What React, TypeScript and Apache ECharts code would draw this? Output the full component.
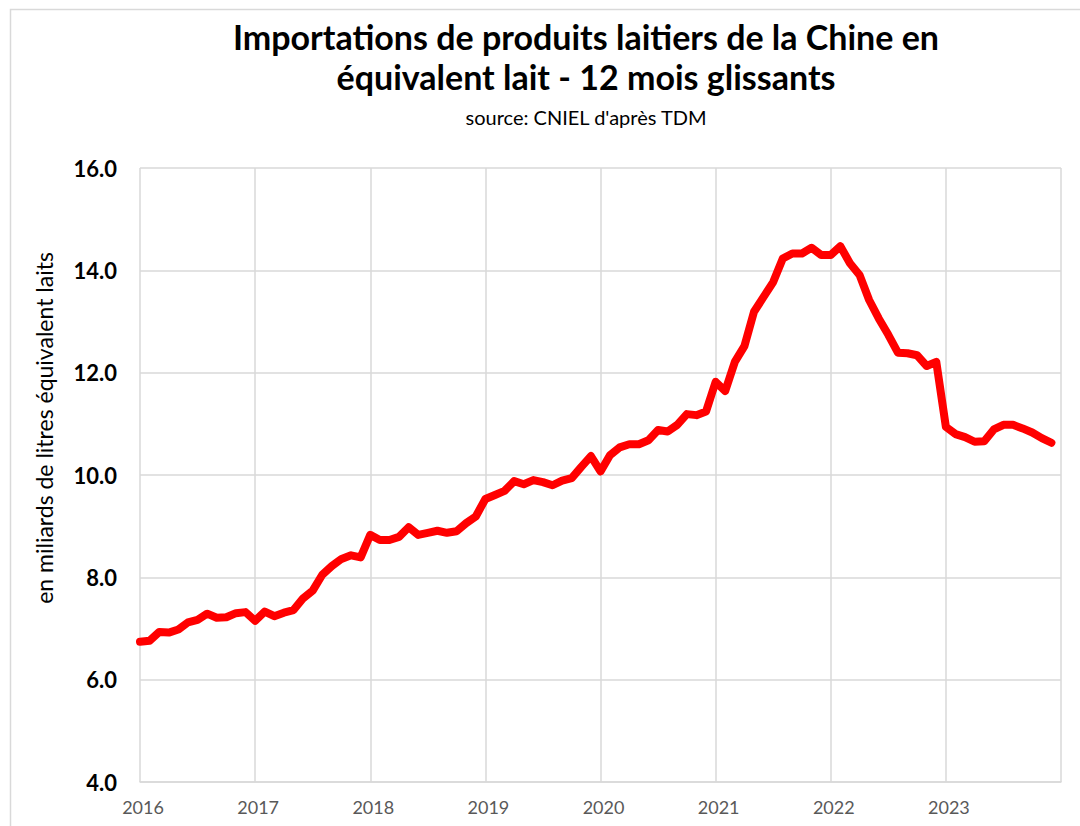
import React, { useEffect, useRef } from "react";
import * as echarts from "echarts";

const titleLine1 = "Importations de produits laitiers de la Chine en";
const titleLine2 = "équivalent lait - 12 mois glissants";
const subtitle = "source: CNIEL d'après TDM";
const yAxisName = "en miliards de litres équivalent laits";

const yearLabels = ["2016", "2017", "2018", "2019", "2020", "2021", "2022", "2023"];

// monthly values, Jan 2016 .. Dec 2023 (milliards de litres, 12 mois glissants)
const values2016 = [6.74, 6.76, 6.93, 6.92, 6.98, 7.12, 7.17, 7.29, 7.21, 7.22, 7.30, 7.32];
const values2017 = [7.15, 7.33, 7.24, 7.31, 7.36, 7.59, 7.74, 8.05, 8.22, 8.36, 8.43, 8.39];
const values2018 = [8.83, 8.73, 8.73, 8.79, 8.98, 8.83, 8.87, 8.91, 8.87, 8.90, 9.06, 9.19];
const values2019 = [9.53, 9.61, 9.69, 9.88, 9.82, 9.90, 9.86, 9.80, 9.89, 9.94, 10.16, 10.37];
const values2020 = [10.07, 10.39, 10.54, 10.60, 10.60, 10.68, 10.88, 10.85, 10.98, 11.19, 11.17, 11.24];
const values2021 = [11.82, 11.64, 12.21, 12.52, 13.19, 13.48, 13.77, 14.23, 14.33, 14.33, 14.44, 14.30];
const values2022 = [14.30, 14.47, 14.14, 13.91, 13.42, 13.06, 12.74, 12.39, 12.38, 12.34, 12.13, 12.21];
const values2023 = [10.94, 10.80, 10.74, 10.65, 10.66, 10.89, 10.98, 10.98, 10.91, 10.83, 10.72, 10.63];

const allValues = [
  ...values2016, ...values2017, ...values2018, ...values2019,
  ...values2020, ...values2021, ...values2022, ...values2023,
];

const FONT = "Lato, 'Open Sans', sans-serif";

export default function App() {
  const ref = useRef<HTMLDivElement>(null);

  useEffect(() => {
    document.body.style.margin = "0";
    if (!ref.current) return;
    const chart = echarts.init(ref.current, null, { renderer: "svg" });
    const data = allValues.map((v, i) => [i, v]);

    chart.setOption({
      animation: false,
      backgroundColor: "#ffffff",
      textStyle: { fontFamily: FONT },
      grid: { left: 140, top: 168, right: 19, bottom: 44, containLabel: false },
      xAxis: {
        type: "value",
        min: 0,
        max: 96,
        interval: 12,
        axisLine: { show: true, lineStyle: { color: "#d9d9d9", width: 1.5 } },
        axisTick: { show: false },
        splitLine: { show: true, lineStyle: { color: "#d9d9d9", width: 1.5 } },
        axisLabel: {
          color: "#595959",
          fontSize: 18,
          fontFamily: FONT,
          margin: 16,
          padding: [0, 0, 0, 6],
          formatter: (v: number) => {
            const idx = Math.round(v / 12);
            return idx < yearLabels.length ? yearLabels[idx] : "";
          },
        },
      },
      yAxis: {
        type: "value",
        min: 4,
        max: 16,
        interval: 2,
        axisLine: { show: false },
        axisTick: { show: false },
        splitLine: { show: true, lineStyle: { color: "#d9d9d9", width: 1.5 } },
        axisLabel: {
          color: "#000000",
          fontSize: 22,
          fontWeight: "bold",
          fontFamily: FONT,
          margin: 23,
          formatter: (v: number) => v.toFixed(1),
        },
      },
      graphic: [
        {
          type: "rect",
          shape: { x: 10.5, y: 9.5, width: 1200, height: 1000 },
          style: { fill: "none", stroke: "#d9d9d9", lineWidth: 1.5 },
          silent: true,
        },
        {
          type: "text",
          x: 586,
          y: 36,
          style: {
            text: titleLine1,
            fontFamily: FONT,
            fontSize: 34,
            fontWeight: "bold",
            fill: "#000000",
            textAlign: "center",
            textVerticalAlign: "middle",
          },
        },
        {
          type: "text",
          x: 586,
          y: 76,
          style: {
            text: titleLine2,
            fontFamily: FONT,
            fontSize: 34,
            fontWeight: "bold",
            fill: "#000000",
            textAlign: "center",
            textVerticalAlign: "middle",
          },
        },
        {
          type: "text",
          x: 586,
          y: 117,
          style: {
            text: subtitle,
            fontFamily: FONT,
            fontSize: 20,
            fill: "#000000",
            textAlign: "center",
            textVerticalAlign: "middle",
          },
        },
        {
          type: "text",
          x: 44,
          y: 428,
          rotation: Math.PI / 2,
          style: {
            text: yAxisName,
            fontFamily: FONT,
            fontSize: 23,
            fill: "#000000",
            textAlign: "center",
            textVerticalAlign: "middle",
          },
        },
      ],
      series: [
        {
          type: "line",
          name: "Importations",
          data,
          showSymbol: false,
          symbol: "none",
          smooth: false,
          lineStyle: { color: "#ff0000", width: 8, cap: "round", join: "round" },
          itemStyle: { color: "#ff0000" },
        },
      ],
    });

    return () => chart.dispose();
  }, []);

  return <div ref={ref} style={{ width: 1080, height: 826 }} />;
}
